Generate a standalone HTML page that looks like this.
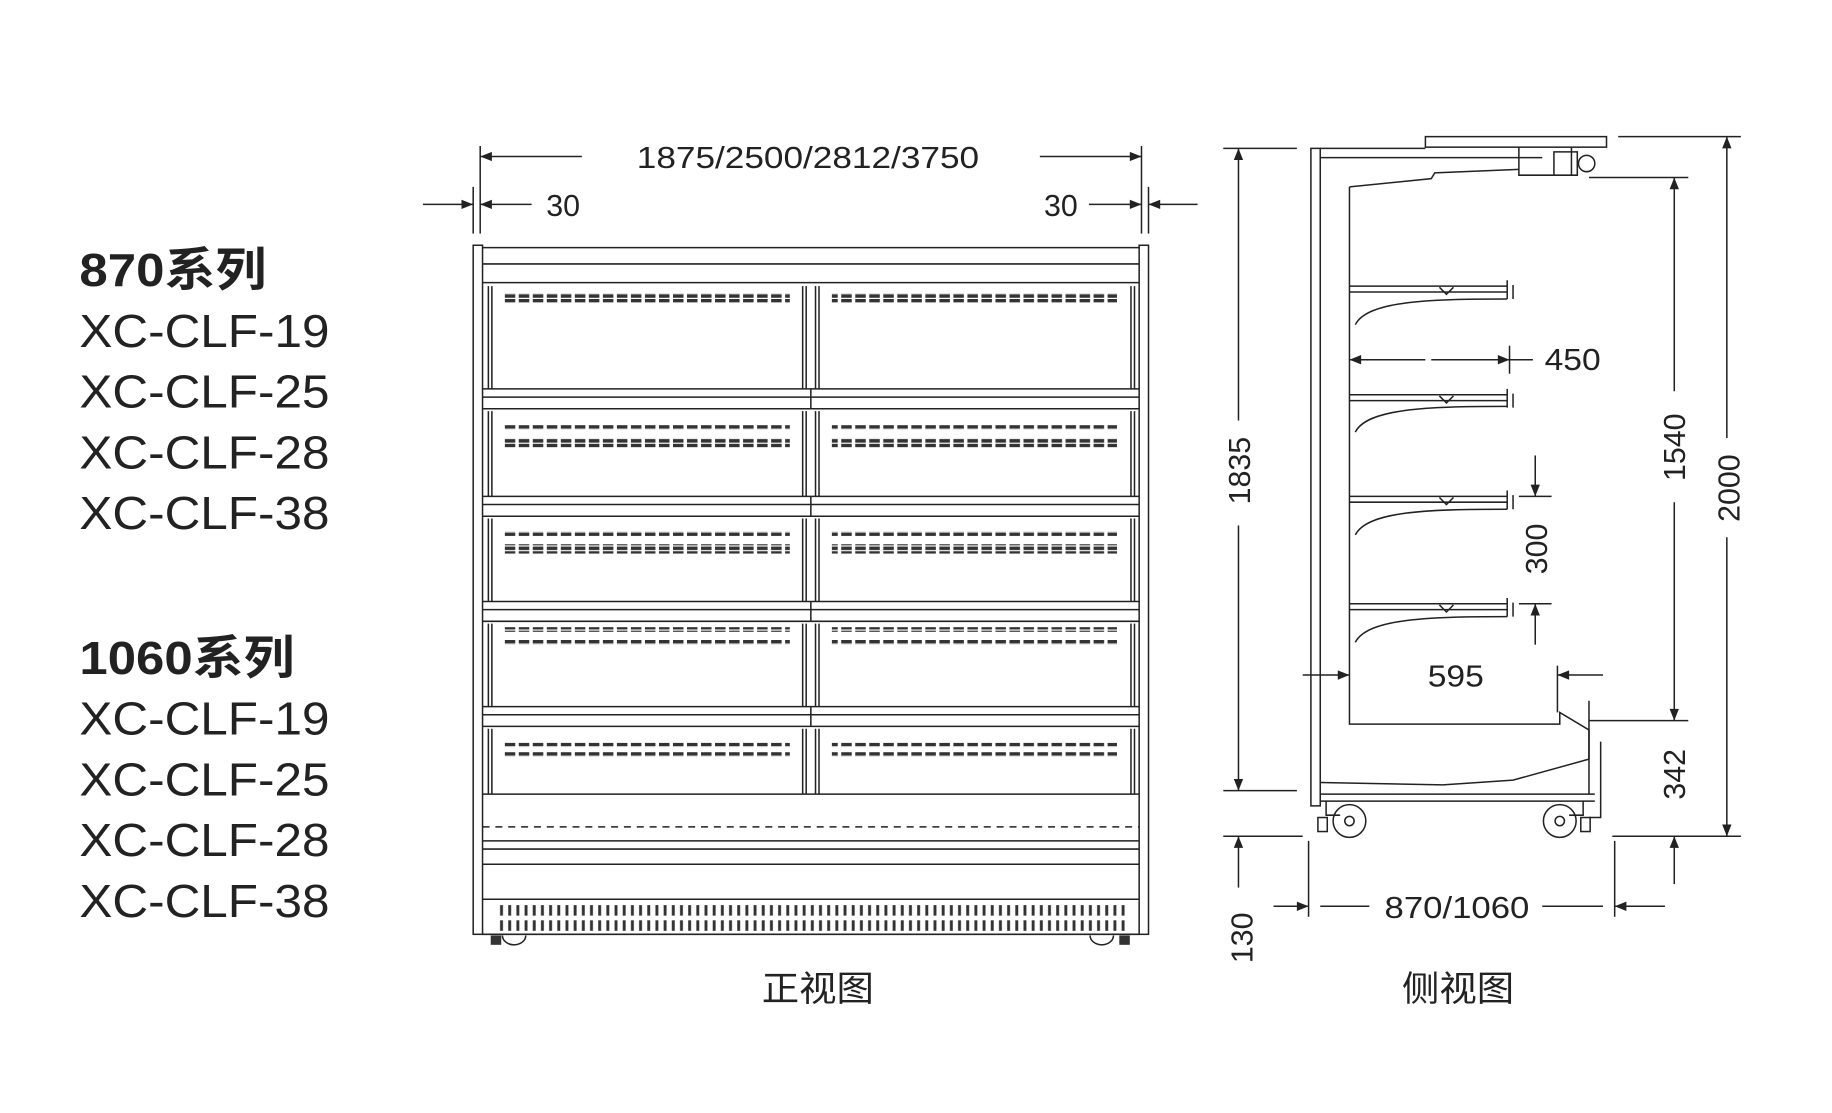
<!DOCTYPE html>
<html><head><meta charset="utf-8"><style>
html,body{margin:0;padding:0;background:#fff;}
svg{display:block;}
text{font-family:"Liberation Sans","Noto Sans CJK SC",sans-serif;fill:#222;}
</style></head><body>
<svg width="1832" height="1113" viewBox="0 0 1568 953" preserveAspectRatio="none" xmlns="http://www.w3.org/2000/svg">
<defs>
<marker id="a" viewBox="0 0 10 10" refX="10" refY="5" markerWidth="22" markerHeight="10" markerUnits="userSpaceOnUse" orient="auto"><path d="M0,1 L10,5 L0,9 z" fill="#222"/></marker>
<pattern id="dash" width="12" height="4" patternUnits="userSpaceOnUse"><rect x="0" y="0" width="9" height="3" fill="#333"/></pattern>
<pattern id="vent" width="7" height="12" patternUnits="userSpaceOnUse"><rect x="1" y="0" width="2.5" height="12" fill="#333"/></pattern>
</defs>
<g font-size="40" fill="#222">
<text x="68" y="245" font-weight="bold" textLength="160" lengthAdjust="spacingAndGlyphs">870系列</text>
<text x="68" y="297" textLength="214" lengthAdjust="spacingAndGlyphs">XC-CLF-19</text>
<text x="68" y="349" textLength="214" lengthAdjust="spacingAndGlyphs">XC-CLF-25</text>
<text x="68" y="401" textLength="214" lengthAdjust="spacingAndGlyphs">XC-CLF-28</text>
<text x="68" y="453" textLength="214" lengthAdjust="spacingAndGlyphs">XC-CLF-38</text>
<text x="68" y="577" font-weight="bold" textLength="184" lengthAdjust="spacingAndGlyphs">1060系列</text>
<text x="68" y="629" textLength="214" lengthAdjust="spacingAndGlyphs">XC-CLF-19</text>
<text x="68" y="681" textLength="214" lengthAdjust="spacingAndGlyphs">XC-CLF-25</text>
<text x="68" y="733" textLength="214" lengthAdjust="spacingAndGlyphs">XC-CLF-28</text>
<text x="68" y="785" textLength="214" lengthAdjust="spacingAndGlyphs">XC-CLF-38</text>
</g>
<g stroke="#222" stroke-width="1.3" fill="none">
<line x1="411" y1="125" x2="411" y2="200"/><line x1="977" y1="125" x2="977" y2="200"/>
<line x1="405" y1="160" x2="405" y2="200"/><line x1="983" y1="160" x2="983" y2="200"/>
<line x1="498" y1="134" x2="411" y2="134" marker-end="url(#a)"/>
<line x1="890" y1="134" x2="977" y2="134" marker-end="url(#a)"/>
<line x1="362" y1="175" x2="405" y2="175" marker-end="url(#a)"/>
<line x1="455" y1="175" x2="411" y2="175" marker-end="url(#a)"/>
<line x1="932" y1="175" x2="977" y2="175" marker-end="url(#a)"/>
<line x1="1025" y1="175" x2="983" y2="175" marker-end="url(#a)"/>
<rect x="405" y="210" width="8" height="590"/><rect x="975" y="210" width="8" height="590"/>
<line x1="413" y1="212" x2="975" y2="212"/><line x1="413" y1="226" x2="975" y2="226"/><line x1="413" y1="242" x2="975" y2="242"/>
<path d="M413,333H975M413,340H975M413,350H975M413,425H975M413,432H975M413,442H975M413,515H975M413,522H975M413,532H975M413,605H975M413,612H975M413,622H975M413,680H975"/>
<path d="M694,333V350M694,425V442M694,515V532M694,605V622"/>
<path d="M418,245V333M421,245V333M687,245V333M690,245V333M698,245V333M701,245V333M968,245V333M971,245V333"/>
<path d="M418,352V425M421,352V425M687,352V425M690,352V425M698,352V425M701,352V425M968,352V425M971,352V425"/>
<path d="M418,444V515M421,444V515M687,444V515M690,444V515M698,444V515M701,444V515M968,444V515M971,444V515"/>
<path d="M418,534V605M421,534V605M687,534V605M690,534V605M698,534V605M701,534V605M968,534V605M971,534V605"/>
<path d="M418,624V680M421,624V680M687,624V680M690,624V680M698,624V680M701,624V680M968,624V680M971,624V680"/>
<line x1="413" y1="708" x2="975" y2="708" stroke-dasharray="6,5"/>
<path d="M413,720H975M413,727H975M413,740H975M413,770H975M413,800H975"/>
<path d="M430,801a10,8 0 0 0 20,0M933,801a10,8 0 0 0 20,0"/>
</g>
<g fill="#333">
<rect x="420" y="801" width="9" height="8"/><rect x="958" y="801" width="9" height="8"/>
</g>
<g fill="url(#dash)">
<rect x="432" y="251" width="244" height="8"/><rect x="712" y="251" width="244" height="8"/>
<rect x="432" y="364" width="244" height="4"/><rect x="712" y="364" width="244" height="4"/>
<rect x="432" y="375" width="244" height="8"/><rect x="712" y="375" width="244" height="8"/>
<rect x="432" y="455" width="244" height="4"/><rect x="712" y="455" width="244" height="4"/>
<rect x="432" y="466" width="244" height="8"/><rect x="712" y="466" width="244" height="8"/>
<rect x="432" y="537" width="244" height="4"/><rect x="712" y="537" width="244" height="4"/>
<rect x="432" y="548" width="244" height="4"/><rect x="712" y="548" width="244" height="4"/>
<rect x="432" y="636" width="244" height="4"/><rect x="712" y="636" width="244" height="4"/>
<rect x="432" y="644" width="244" height="4"/><rect x="712" y="644" width="244" height="4"/>
</g>
<rect x="425" y="775" width="540" height="9" fill="url(#vent)"/>
<rect x="425" y="788" width="540" height="9" fill="url(#vent)"/>
<g font-size="26">
<text x="545" y="144" textLength="293" lengthAdjust="spacingAndGlyphs">1875/2500/2812/3750</text>
<text x="482" y="185" text-anchor="middle">30</text>
<text x="908" y="185" text-anchor="middle">30</text>
</g>
<text x="652" y="857" font-size="30" textLength="96" lengthAdjust="spacingAndGlyphs">正视图</text>

<g stroke="#222" stroke-width="1.3" fill="none">
<line x1="1047" y1="127" x2="1110" y2="127"/><line x1="1047" y1="677" x2="1110" y2="677"/>
<line x1="1060" y1="360" x2="1060" y2="127" marker-end="url(#a)"/>
<line x1="1060" y1="450" x2="1060" y2="677" marker-end="url(#a)"/>
<line x1="1047" y1="716" x2="1115" y2="716"/>
<line x1="1060" y1="760" x2="1060" y2="716" marker-end="url(#a)"/>
<path d="M1122,127V690H1130V127Z"/>
<path d="M1130,127H1220M1130,135H1320"/>
<rect x="1220" y="117" width="155" height="9"/>
<path d="M1300,126V150H1345V126M1330,130h20v20h-20z"/>
<circle cx="1358" cy="140" r="7"/>
<path d="M1155,160L1225,153L1228,148L1300,145"/>
<path d="M1155,160V620H1335V610L1360,625V650"/>
<path d="M1130,670L1235,672L1295,668L1360,650"/>
<path d="M1130,680H1365M1130,686H1365"/>
<path d="M1360,600V680M1370,635V700H1360"/>
<g>
<path d="M1155,245H1290M1155,250H1290M1232,246l6,6l6,-6M1160,278c10,-20 60,-22 130,-22"/><path d="M1290,240v16M1295,244v12"/>
<path d="M1155,338H1290M1155,343H1290M1232,339l6,6l6,-6M1160,370c10,-20 60,-22 130,-22"/><path d="M1290,333v16M1295,337v12"/>
<path d="M1155,425H1290M1155,430H1290M1232,426l6,6l6,-6M1160,458c10,-20 60,-22 130,-22"/><path d="M1290,420v16M1295,424v12"/>
<path d="M1155,517H1290M1155,522H1290M1232,518l6,6l6,-6M1160,550c10,-20 60,-22 130,-22"/><path d="M1290,512v16M1295,516v12"/>
</g>
<circle cx="1155" cy="703" r="14"/><circle cx="1155" cy="703" r="4"/>
<circle cx="1335" cy="703" r="14"/><circle cx="1335" cy="703" r="4"/>
<path d="M1135,686v12h12M1355,686v12h-12"/>
<rect x="1128" y="700" width="8" height="12"/><rect x="1353" y="700" width="8" height="12"/>
<line x1="1292" y1="296" x2="1292" y2="320"/>
<line x1="1220" y1="308" x2="1155" y2="308" marker-end="url(#a)"/>
<line x1="1225" y1="308" x2="1292" y2="308" marker-end="url(#a)"/>
<line x1="1292" y1="308" x2="1312" y2="308"/>
<line x1="1300" y1="425" x2="1328" y2="425"/><line x1="1300" y1="517" x2="1328" y2="517"/>
<line x1="1314" y1="390" x2="1314" y2="425" marker-end="url(#a)"/>
<line x1="1314" y1="552" x2="1314" y2="517" marker-end="url(#a)"/>
<line x1="1115" y1="578" x2="1155" y2="578" marker-end="url(#a)"/>
<line x1="1372" y1="578" x2="1333" y2="578" marker-end="url(#a)"/>
<line x1="1333" y1="570" x2="1333" y2="610"/>
<line x1="1360" y1="152" x2="1445" y2="152"/><line x1="1360" y1="617" x2="1445" y2="617"/>
<line x1="1433" y1="335" x2="1433" y2="152" marker-end="url(#a)"/>
<line x1="1433" y1="430" x2="1433" y2="617" marker-end="url(#a)"/>
<line x1="1433" y1="757" x2="1433" y2="716" marker-end="url(#a)"/>
<line x1="1385" y1="117" x2="1490" y2="117"/><line x1="1380" y1="716" x2="1490" y2="716"/>
<line x1="1478" y1="375" x2="1478" y2="117" marker-end="url(#a)"/>
<line x1="1478" y1="460" x2="1478" y2="716" marker-end="url(#a)"/>
<line x1="1120" y1="720" x2="1120" y2="785"/><line x1="1382" y1="720" x2="1382" y2="785"/>
<line x1="1090" y1="776" x2="1120" y2="776" marker-end="url(#a)"/>
<line x1="1425" y1="776" x2="1382" y2="776" marker-end="url(#a)"/>
<line x1="1130" y1="776" x2="1172" y2="776"/><line x1="1320" y1="776" x2="1372" y2="776"/>
</g>
<g font-size="26">
<text x="1322" y="317" textLength="48" lengthAdjust="spacingAndGlyphs">450</text>
<text x="1222" y="588" textLength="48" lengthAdjust="spacingAndGlyphs">595</text>
<text x="1185" y="786" textLength="124" lengthAdjust="spacingAndGlyphs">870/1060</text>
<text transform="translate(1070,403) rotate(-90)" text-anchor="middle">1835</text>
<text transform="translate(1072,803) rotate(-90)" text-anchor="middle">130</text>
<text transform="translate(1324,470) rotate(-90)" text-anchor="middle">300</text>
<text transform="translate(1442,383) rotate(-90)" text-anchor="middle">1540</text>
<text transform="translate(1442,663) rotate(-90)" text-anchor="middle">342</text>
<text transform="translate(1489,418) rotate(-90)" text-anchor="middle">2000</text>
</g>
<text x="1200" y="857" font-size="30" textLength="96" lengthAdjust="spacingAndGlyphs">侧视图</text>
</svg>
</body></html>
